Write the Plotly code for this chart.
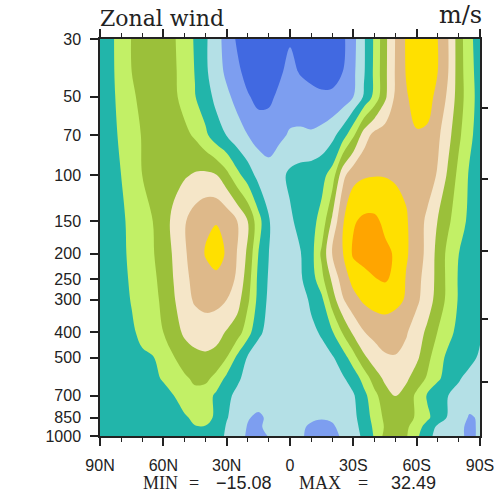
import math
import plotly.graph_objects as go

# latitude (deg, + = N) left to right, pressure levels (hPa)
lats = [90, 85, 80, 75, 70, 65, 60, 55, 50, 45, 40, 35, 30, 25, 20, 15, 10, 5, 0,
        -5, -10, -15, -20, -25, -30, -35, -40, -45, -50, -55, -60, -65, -70, -75, -80, -85, -90]
levels = [30, 40, 50, 70, 100, 150, 200, 250, 300, 400, 500, 600, 700, 850, 925, 1000]

u_30 = [2, 4, 7, 10.2, 12, 13, 13, 10.5, 7.5, 4.5, 0.8, -3.5, -6.5, -10.8, -13, -14, -14, -12.5, -10.5,
        -11.5, -12.5, -13.5, -13.5, -11, -6.5, -0.6, 5.8, 13.7, 20.3, 25.5, 28, 28.5, 25, 20, 12.5, 6, 3]
u_40 = [2, 4, 6.8, 10, 12, 13, 13, 10.8, 7.8, 4.8, 0.8, -2.8, -6, -8.8, -12, -13.5, -13, -10.8, -8.5,
        -10.5, -12, -12.5, -12, -10, -6, -0.5, 6, 13.8, 20.5, 25.3, 28, 28, 25, 20, 12.5, 6.5, 3]
u_50 = [2, 3.8, 6.5, 9, 11.5, 12.5, 12.5, 11, 8.2, 5.2, 2, -1.2, -4, -6.5, -9.5, -11.5, -11, -9, -7.5,
        -7.5, -8, -9, -9, -8, -5, 0.5, 6.5, 14, 21, 24.5, 27, 27, 23.5, 19, 12.5, 7, 3]
u_70 = [2, 3.5, 5.8, 8, 10.3, 11.5, 12, 12, 11.2, 9.3, 6, 2, -0.2, -3, -5, -7, -7.5, -6, -4.5,
        -4.3, -4.5, -3.5, -1.5, 2.5, 9, 17.5, 21.5, 22.5, 23.5, 24.2, 24.6, 24.2, 21, 16.5, 11, 6, 3]
u_100 = [2, 3.5, 5, 7.5, 10, 11.5, 12.5, 13.5, 14.5, 15.5, 16, 15.3, 11.5, 6.5, 2.5, -1.5, -3, -1.5, 1,
         2, 2.5, 3.5, 7, 18.5, 23.5, 24.5, 24.8, 24.8, 24.5, 24, 23.5, 22.5, 19.5, 14, 8.5, 4.5, 2]
u_150 = [1.5, 3, 4.3, 6, 8, 10, 13, 16.2, 19.5, 22.5, 24.3, 24.8, 23.5, 20, 15, 7, 0.3, -2, -0.8,
         1.5, 3.5, 6.5, 16, 24.5, 29.5, 31, 31, 29, 27, 25.5, 22.5, 19, 14.8, 10.8, 7, 4, 2]
u_200 = [1.5, 2.8, 4.2, 5.8, 7.8, 9.6, 12.5, 15.6, 19.3, 22.5, 25.3, 26.5, 24.6, 19.8, 14, 5, 0, -2.5, -2,
         -0.2, 3, 11, 20.5, 24.8, 30.8, 32.3, 32, 31, 29.5, 25.5, 23, 18.5, 13.5, 8.5, 5, 3, 1.5]
u_250 = [1.5, 2.8, 4, 5.5, 7.3, 9, 11.6, 15.2, 18.7, 21.5, 23.5, 24.2, 23, 19, 12.5, 3.8, -0.5, -2.5, -2.5,
         -0.5, 2.5, 8.5, 16, 22.5, 26.5, 28, 29.8, 30.5, 29, 24.7, 21.5, 18, 13.5, 8.5, 4.5, 2.5, 1]
u_300 = [1.5, 2.6, 3.8, 5.2, 7, 8.6, 11, 14.6, 18, 20.7, 21.7, 21.5, 20, 17, 11, 3.5, -1, -3, -3,
         -2, 0.8, 3.8, 12.5, 19.5, 23.5, 25.8, 27, 27.5, 26.5, 24.5, 21, 17.5, 13, 8.5, 4.5, 2.5, 1]
u_400 = [1.3, 2.3, 3.3, 4.5, 5.8, 7.5, 10, 13, 15.8, 17, 17.5, 16.8, 14.6, 12.5, 7, 1, -1.5, -3, -3,
         -2.5, -1, 0.5, 4.5, 10.5, 16, 19.8, 21.5, 22, 21.5, 20.5, 17.5, 14, 9.8, 6.5, 3.5, 2, 0.5]
u_500 = [1, 1.8, 2.6, 3.5, 4.5, 4.8, 6.3, 9.8, 12.5, 13.8, 14.2, 13.5, 10, 4, -0.5, -2.5, -3.5, -3.5, -3,
         -3, -2.5, -1.5, -0.5, 2.5, 8, 14, 17.5, 19.5, 19.8, 18.5, 16, 11.5, 7, 3.8, 2.5, 1, -0.5]
u_600 = [0.8, 1.5, 2, 2.8, 3.5, 4.3, 5.3, 7.5, 9.2, 11, 11.2, 8.5, 3.8, 0.8, -1.5, -3, -3.5, -3.5, -3,
         -3, -3, -2.5, -1.5, -0.5, 2, 7, 12.5, 16, 17, 16, 12.5, 9.5, 5.8, 3, 0.3, -1, -2]
u_700 = [0.5, 1, 1.5, 2, 2.7, 3.3, 4, 5, 7, 8.5, 7.5, 4, 1, -1, -2.5, -3.5, -4, -3.8, -3.5,
         -4, -4.5, -4, -3, -1.5, -0.5, 3.5, 8.5, 13, 15.2, 13, 9, 4.5, 2, 0, -1, -2.5, -3.5]
u_850 = [0.3, 0.8, 1.2, 1.5, 2, 2.5, 3, 3.8, 4.5, 5.8, 6, 4.5, 0.3, -2, -4.8, -5.5, -4.5, -3.5, -3.5,
         -3.8, -4.5, -4.8, -4.5, -3, -1, 2, 7, 11, 12.5, 11.5, 9.5, 6, 2.5, -0.5, -2.5, -5.5, -4.5]
u_925 = [0.2, 0.6, 1, 1.3, 1.8, 2.2, 2.7, 3.3, 4, 4.8, 4.8, 3.3, -0.5, -3.5, -5.2, -5.5, -4.2, -3.5, -3.5,
         -4.5, -5.5, -5.8, -5.5, -4, -1.5, 1.5, 6, 10.5, 12, 11, 7, 3, -1, -2, -3.5, -6.5, -4]
u_1000 = [0.2, 0.5, 0.8, 1.2, 1.5, 2, 2.5, 3, 3.3, 3.6, 3.4, 2.3, -0.8, -3.5, -5.5, -6.3, -4.8, -3.5, -3.5,
          -4.5, -6, -6.5, -6, -4.5, -2, 1, 5.5, 11.5, 11.5, 10.5, 6, 1.5, -1.5, -2.5, -3.5, -6.5, -4]

zonal_wind = [u_30, u_40, u_50, u_70, u_100, u_150, u_200, u_250, u_300,
              u_400, u_500, u_600, u_700, u_850, u_925, u_1000]

ytick_vals = [30, 50, 70, 100, 150, 200, 250, 300, 400, 500, 700, 850, 1000]
ytick_text = ["30", "50", "70", "100", "150", "200", "250", "300", "400", "500", "700", "850", "1000"]
xtick_vals = [90, 60, 30, 0, -30, -60, -90]
xtick_text = ["90N", "60N", "30N", "0", "30S", "60S", "90S"]
right_tick_hpa = [55.0, 103.6, 194.7, 356.8, 619.0]

band_colors = ["#2a45c8", "#4169e1", "#7d9ef0", "#b4e0e6", "#22b5aa", "#c2f066",
               "#9bc03a", "#f5e6c8", "#deb98a", "#ffe000", "#ffa500"]
colorscale = [[i / 10, c] for i, c in enumerate(band_colors)]

fig = go.Figure()
fig.add_trace(go.Contour(
    x=lats, y=levels, z=zonal_wind,
    contours=dict(coloring="fill", start=-15, end=30, size=5, showlines=False),
    line=dict(width=0), colorscale=colorscale, showscale=False, hoverinfo="skip"))
fig.add_trace(go.Scatter(x=[None], y=[None], yaxis="y2", showlegend=False, hoverinfo="skip"))

tickfont = dict(family="Liberation Sans", size=16, color="#222222")
prange = [math.log10(1000), math.log10(30)]
fig.update_layout(
    width=499, height=495,
    margin=dict(l=100, r=19, t=39, b=59, autoexpand=False),
    paper_bgcolor="white", plot_bgcolor="white",
    showlegend=False,
    xaxis=dict(range=[90, -90], tickvals=xtick_vals, ticktext=xtick_text, automargin=False,
               ticks="outside", ticklen=8, tickwidth=1.5, tickcolor="#222",
               showline=True, linewidth=1.5, linecolor="#222", mirror="ticks",
               showgrid=False, zeroline=False, tickfont=tickfont, ticklabelstandoff=6,
               minor=dict(dtick=10, ticks="outside", ticklen=4, tickwidth=1, tickcolor="#222")),
    yaxis=dict(type="log", range=prange, tickvals=ytick_vals, ticktext=ytick_text, automargin=False,
               ticks="outside", ticklen=8, tickwidth=1.5, tickcolor="#222",
               showline=True, linewidth=1.5, linecolor="#222", mirror=True,
               showgrid=False, zeroline=False, tickfont=tickfont, ticklabelstandoff=6),
    yaxis2=dict(type="log", range=prange, overlaying="y", side="right", automargin=False,
                tickvals=right_tick_hpa, showticklabels=False, ticks="outside",
                ticklen=7, tickwidth=1.5, tickcolor="#222", showgrid=False,
                showline=False, zeroline=False),
)

fig.add_annotation(text="Zonal wind", xref="paper", yref="paper", x=0, y=1,
                   xanchor="left", yanchor="bottom", yshift=6, xshift=-2, showarrow=False,
                   font=dict(family="DejaVu Serif", size=22, color="#222222"))
fig.add_annotation(text="m/s", xref="paper", yref="paper", x=1, y=1,
                   xanchor="right", yanchor="bottom", yshift=8, xshift=4, showarrow=False,
                   font=dict(family="DejaVu Serif", size=24, color="#222222"))

mm_serif = dict(family="Liberation Serif", size=18, color="#222222")
mm_sans = dict(family="Liberation Sans", size=18, color="#222222")
for txt, px, f in [("MIN", 141, mm_serif), ("=", 187, mm_serif), ("\u221215.08", 214, mm_sans),
                   ("MAX", 297, mm_serif), ("=", 356, mm_serif), ("32.49", 389, mm_sans)]:
    fig.add_annotation(text=txt, xref="paper", yref="paper", x=(px - 100) / 380, y=0,
                       xanchor="left", yanchor="middle", yshift=-47, showarrow=False, font=f)

fig.write_html("out.html", config={"displayModeBar": False},
               post_script="document.body.style.margin='0px';")
